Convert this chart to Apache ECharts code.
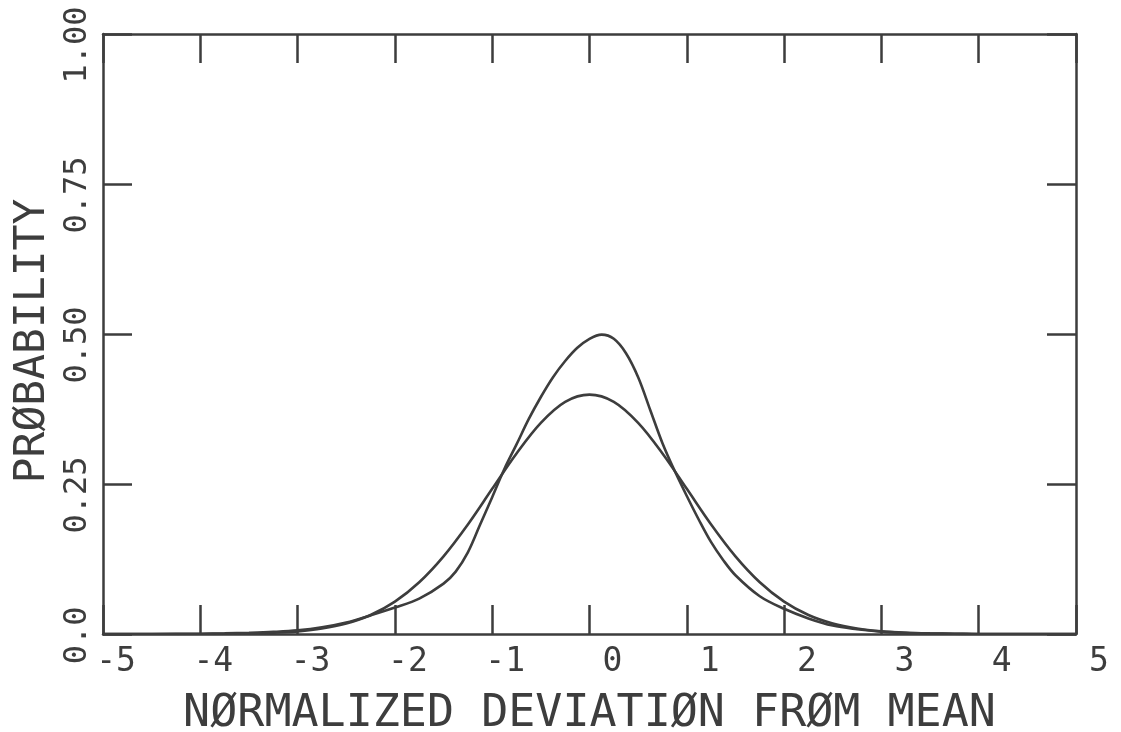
<!DOCTYPE html>
<html>
<head>
<meta charset="utf-8">
<script src="https://cdn.jsdelivr.net/npm/echarts@6/dist/echarts.min.js"></script>
<style>
html,body{margin:0;padding:0;background:#fff;}
#chart{width:1121px;height:732px;}
</style>
</head>
<body>
<div id="chart"></div>
<script>
// Data
const wideX = [-5,-4.75,-4.5,-4.25,-4,-3.75,-3.5,-3.25,-3,-2.75,-2.5,-2.25,-2,-1.75,-1.5,-1.25,-1,-0.75,-0.5,-0.25,0,
               0.25,0.5,0.75,1,1.25,1.5,1.75,2,2.25,2.5,2.75,3,3.25,3.5,3.75,4,4.25,4.5,4.75,5];
const wideY = [0,0,0,0.0001,0.0001,0.0004,0.0009,0.002,0.0044,0.0091,0.0175,0.0317,0.054,0.0863,0.1295,0.1826,0.242,0.301,0.352,0.387,0.399,
               0.387,0.352,0.301,0.242,0.1826,0.1295,0.0863,0.054,0.0317,0.0175,0.0091,0.0044,0.002,0.0009,0.0004,0.0001,0.0001,0,0,0];
const peakedX = [-5,-4.5,-4,-3.75,-3.5,-3.25,-3,-2.75,-2.5,-2.25,-2,-1.75,-1.5,-1.375,-1.25,-1.125,-1,-0.875,-0.75,-0.625,-0.5,-0.375,-0.25,-0.125,0,
                 0.125,0.25,0.375,0.5,0.625,0.75,0.875,1,1.125,1.25,1.375,1.5,1.75,2,2.25,2.5,2.75,3,3.25,3.5,3.75,4,4.5,5];
const peakedY = [0,0,0.0005,0.001,0.002,0.0035,0.006,0.011,0.019,0.031,0.044,0.059,0.084,0.104,0.136,0.182,0.228,0.275,0.316,0.358,0.395,0.428,0.455,0.477,0.492,
                 0.499,0.492,0.468,0.428,0.373,0.318,0.272,0.230,0.190,0.153,0.123,0.098,0.063,0.042,0.026,0.014,0.008,0.004,0.002,0.001,0.0005,0,0,0];
const yTickLabels = {0:' 0.0',0.25:'0.25',0.5:'0.50',0.75:'0.75',1:'1.00'};
const xTitle = 'NØRMALIZED DEVIATIØN FRØM MEAN';
const yTitle = 'PRØBABILITY';

const ink = '#3d3d3d';
const mono = '"DejaVu Sans Mono", "Liberation Mono", monospace';

const chart = echarts.init(document.getElementById('chart'), null, {renderer:'canvas'});
const axisLine = {show:true, onZero:false, lineStyle:{color:ink, width:2.5}};
const ticks = {show:true, inside:true, length:29, lineStyle:{color:ink, width:2.5}};

chart.setOption({
  backgroundColor:'#ffffff',
  animation:false,
  grid:{left:103, right:45, top:34, bottom:98, containLabel:false, outerBoundsMode:'none'},
  xAxis:[{
    type:'value', min:-5, max:5, interval:1, position:'bottom',
    axisLine:axisLine, axisTick:ticks, splitLine:{show:false},
    axisLabel:{
      show:true, margin:12, color:ink, fontFamily:mono, fontSize:33,
      align:'center', padding:[0,0,0,26],
      formatter:v => (v<0?'-':' ') + Math.abs(v)
    },
    name:xTitle, nameLocation:'middle', nameGap:58,
    nameTextStyle:{color:ink, fontFamily:mono, fontSize:45}
  },{
    type:'value', min:-5, max:5, interval:1, position:'top',
    axisLine:axisLine, axisTick:ticks, axisLabel:{show:false}, splitLine:{show:false}
  }],
  yAxis:[{
    type:'value', min:0, max:1, interval:0.25, position:'left',
    axisLine:axisLine, axisTick:ticks, splitLine:{show:false},
    axisLabel:{
      show:true, rotate:90, margin:25, color:ink, fontFamily:mono, fontSize:32,
      align:'center', verticalAlign:'middle', padding:[0,22,0,0],
      formatter:v => yTickLabels[v] !== undefined ? yTickLabels[v] : ''
    },
    name:yTitle, nameLocation:'middle', nameGap:49, nameRotate:90,
    nameTextStyle:{color:ink, fontFamily:mono, fontSize:43, padding:[0,14,0,0]}
  },{
    type:'value', min:0, max:1, interval:0.25, position:'right',
    axisLine:axisLine, axisTick:ticks, axisLabel:{show:false}, splitLine:{show:false}
  }],
  series:[{
    type:'line', name:'wide', data:wideX.map((x,i)=>[x, wideY[i]]),
    smooth:0.35, showSymbol:false, lineStyle:{color:ink, width:2.6}
  },{
    type:'line', name:'peaked', data:peakedX.map((x,i)=>[x, peakedY[i]]),
    smooth:0.35, showSymbol:false, lineStyle:{color:ink, width:2.6}
  }]
});
</script>
</body>
</html>
